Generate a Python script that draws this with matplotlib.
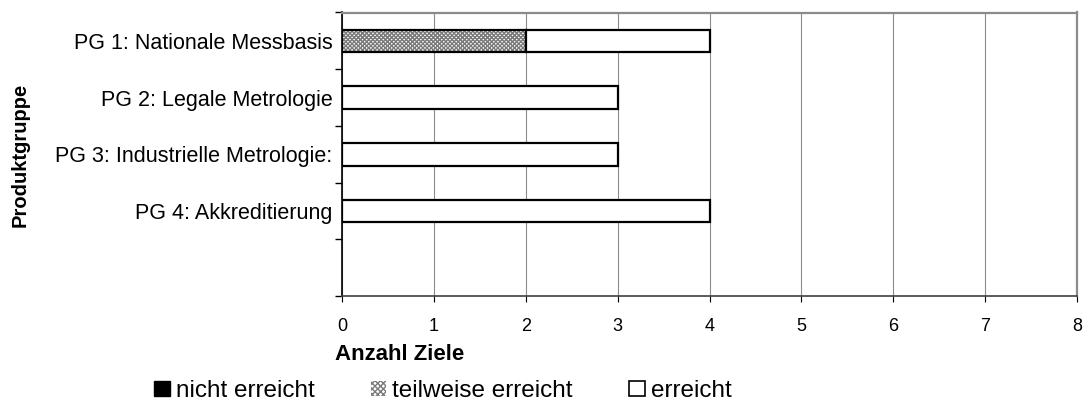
import matplotlib.pyplot as plt
from matplotlib.patches import Patch

plt.rcParams['font.family'] = ['Liberation Sans', 'DejaVu Sans']

# Daten
gruppen = ["PG 1: Nationale Messbasis", "PG 2: Legale Metrologie",
           "PG 3: Industrielle Metrologie:", "PG 4: Akkreditierung"]
nicht_erreicht = [0, 0, 0, 0]
teilweise_erreicht = [2, 0, 0, 0]
erreicht = [2, 3, 3, 4]
x_ticks = [0, 1, 2, 3, 4, 5, 6, 7, 8]

fig = plt.figure(figsize=(10.85, 4.05), dpi=100)
ax = fig.add_axes([342 / 1085, 1 - 296 / 405, (1077 - 342) / 1085, (296 - 12.5) / 405])

y = list(range(len(gruppen)))
h = 0.4

# nicht erreicht
ax.barh(y, nicht_erreicht, height=h, color='black', edgecolor='black', linewidth=1.5, zorder=3)
left1 = nicht_erreicht
# teilweise erreicht: Raster + Rahmen
ax.barh(y, teilweise_erreicht, left=left1, height=h, color='white', edgecolor='#7a7a7a',
        hatch='xxxxxxxx', linewidth=0, zorder=3)
for yi, w, l in zip(y, teilweise_erreicht, left1):
    if w > 0:
        ax.barh(yi, w, left=l, height=h, color='none', edgecolor='black', linewidth=1.6, zorder=4)
left2 = [a + b for a, b in zip(nicht_erreicht, teilweise_erreicht)]
ax.barh(y, erreicht, left=left2, height=h, color='white', edgecolor='black', linewidth=1.6, zorder=4)

ax.set_xlim(0, 8)
ax.set_ylim(4.5, -0.5)
ax.set_xticks(x_ticks)
ax.set_yticks(y)
ax.set_yticklabels(gruppen, fontsize=15.5)
ax.set_yticks([i - 0.5 for i in range(6)], minor=True)
ax.tick_params(axis='y', which='major', length=0, pad=7)
ax.tick_params(axis='y', which='minor', length=5, direction='out', width=1)
ax.tick_params(axis='x', length=4, direction='out', pad=12, labelsize=13)

ax.grid(axis='x', color='#8c8c8c', linewidth=0.8, zorder=0)
ax.set_axisbelow(True)
ax.spines['left'].set_color('black')
ax.spines['bottom'].set_color('#404040')
ax.spines['top'].set_color('#8c8c8c')
ax.spines['right'].set_color('#8c8c8c')
for s in ax.spines.values():
    s.set_linewidth(1.2)
ax.spines['top'].set_linewidth(1.6)
ax.spines['right'].set_linewidth(1.6)

fig.text(335 / 1085, 1 - 355 / 405, "Anzahl Ziele", fontsize=16, fontweight='bold',
         ha='left', va='center')
fig.text(20 / 1085, 1 - 155 / 405, "Produktgruppe", rotation=90, fontsize=14.5,
         fontweight='bold', ha='center', va='center')

handles = [Patch(facecolor='black', edgecolor='black'),
           Patch(facecolor='white', edgecolor='#7a7a7a', hatch='xxxxxx', linewidth=0),
           Patch(facecolor='white', edgecolor='black', linewidth=1.2)]
fig.legend(handles, ["nicht erreicht", "teilweise erreicht", "erreicht"], ncol=3,
           loc='center left', bbox_to_anchor=(154 / 1085, 1 - 391 / 405), frameon=False,
           fontsize=17.5, handlelength=0.65, handleheight=0.55, handletextpad=0.25,
           columnspacing=2.3, borderpad=0, borderaxespad=0)

fig.savefig("out.png", dpi=100)
